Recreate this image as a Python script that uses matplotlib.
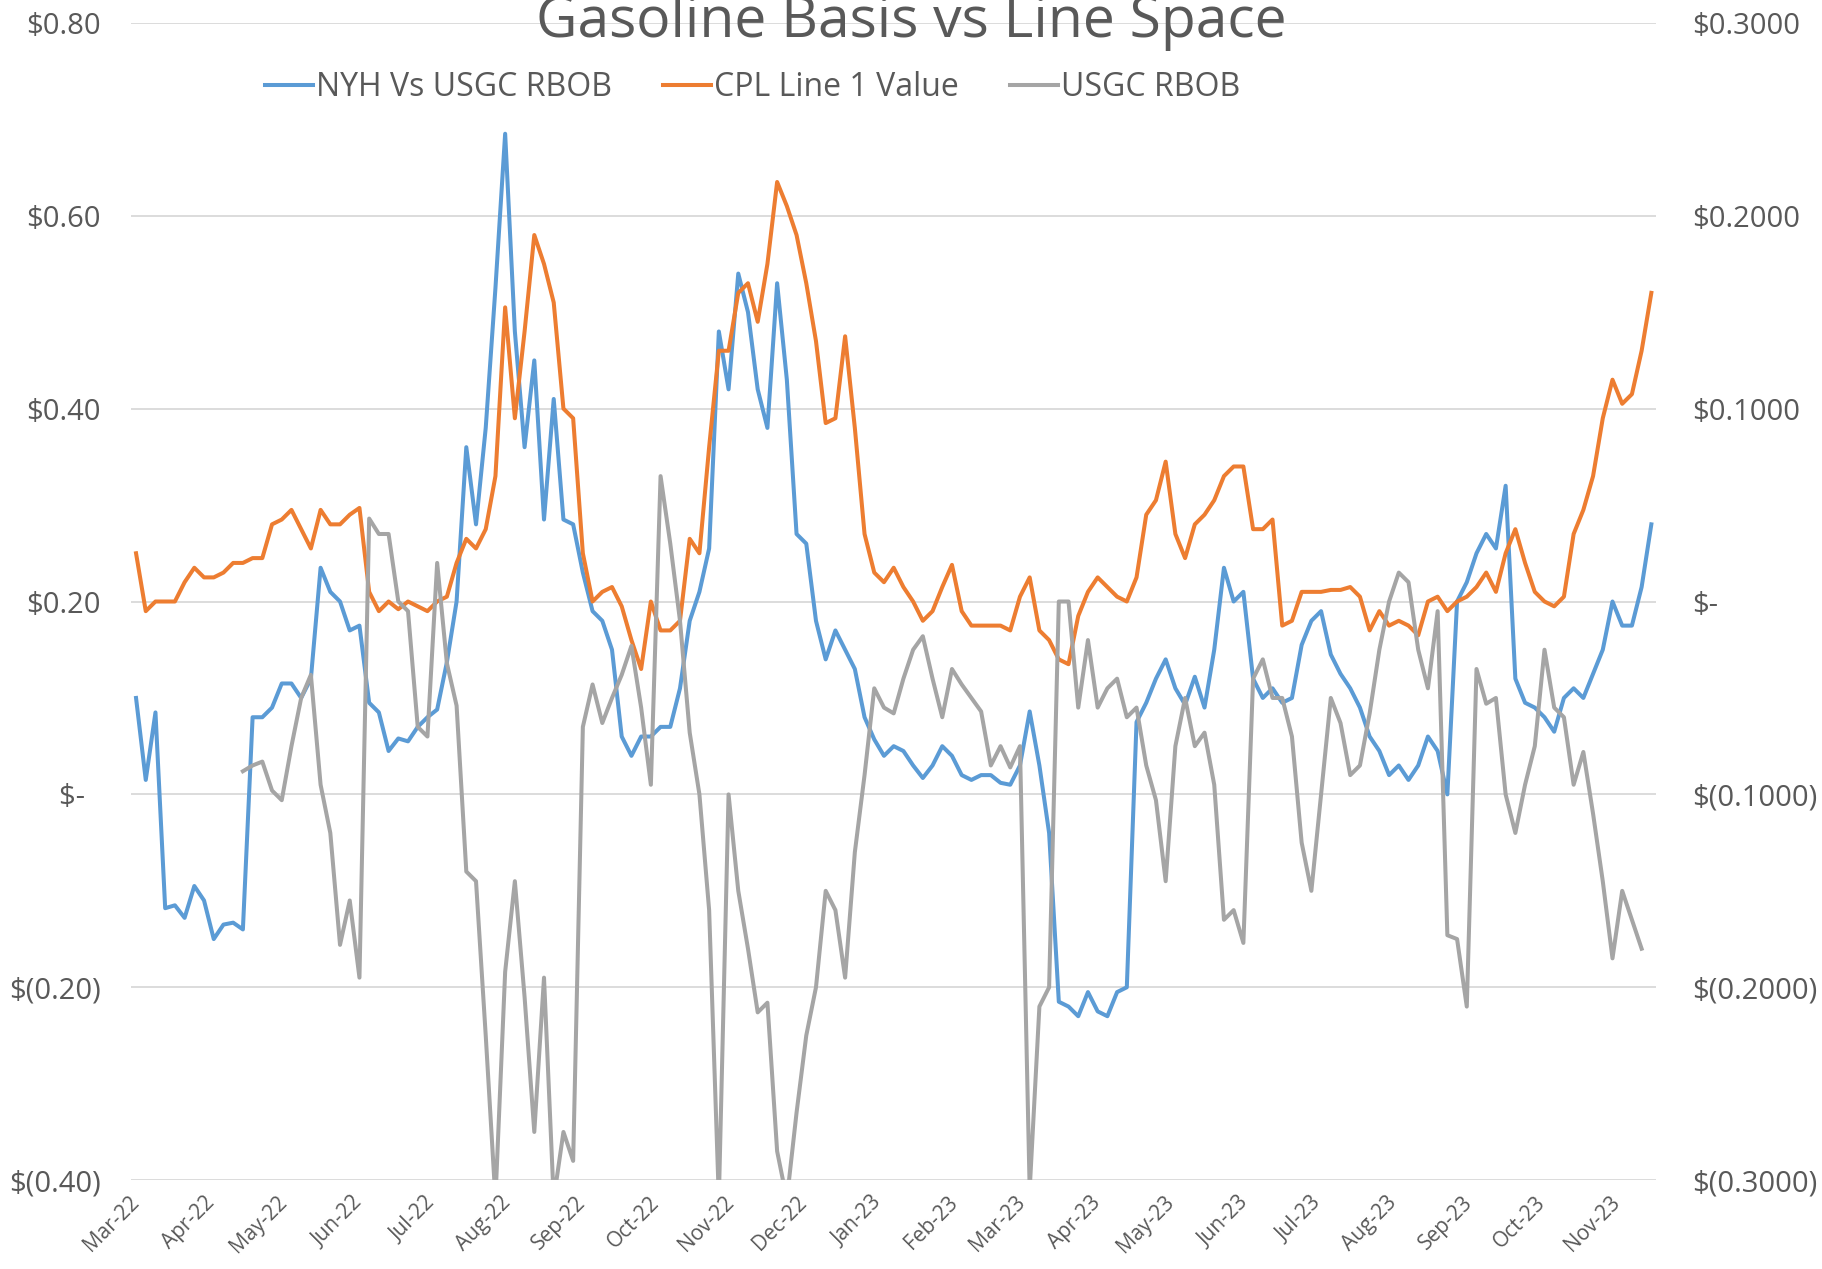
import numpy as np
import pandas as pd
import matplotlib
matplotlib.use("Agg")
import matplotlib.pyplot as plt
import matplotlib.dates as mdates
from matplotlib.ticker import FixedLocator, FuncFormatter

plt.rcParams['font.family'] = ['Open Sans', 'DejaVu Sans']

# sampled every 4 days from 1 Mar 2022
dates = pd.date_range('2022-03-01', periods=157, freq='4D')

# NYH vs USGC RBOB (left axis, $/gal)
nyh = [0.10, 0.015, 0.085, -0.118, -0.115, -0.128, -0.095, -0.11, -0.15, -0.135,
       -0.133, -0.14, 0.08, 0.08, 0.09, 0.115, 0.115, 0.10, 0.12, 0.235,
       0.21, 0.20, 0.17, 0.175, 0.095, 0.085, 0.045, 0.058, 0.055, 0.07,
       0.08, 0.088, 0.137, 0.20, 0.36, 0.28, 0.38, 0.525, 0.685, 0.48,
       0.36, 0.45, 0.285, 0.41, 0.285, 0.28, 0.23, 0.19, 0.18, 0.15,
       0.06, 0.04, 0.06, 0.06, 0.07, 0.07, 0.11, 0.18, 0.21, 0.255,
       0.48, 0.42, 0.54, 0.50, 0.42, 0.38, 0.53, 0.43, 0.27, 0.26,
       0.18, 0.14, 0.17, 0.15, 0.13, 0.08, 0.057, 0.04, 0.05, 0.045,
       0.03, 0.017, 0.03, 0.05, 0.04, 0.02, 0.015, 0.02, 0.02, 0.012,
       0.01, 0.03, 0.086, 0.03, -0.04, -0.215, -0.22, -0.23, -0.205, -0.225,
       -0.23, -0.205, -0.20, 0.075, 0.095, 0.12, 0.14, 0.11, 0.093, 0.122,
       0.09, 0.15, 0.235, 0.20, 0.21, 0.12, 0.10, 0.11, 0.095, 0.10,
       0.155, 0.18, 0.19, 0.145, 0.125, 0.11, 0.09, 0.06, 0.045, 0.02,
       0.03, 0.015, 0.03, 0.06, 0.045, 0.0, 0.20, 0.22, 0.25, 0.27,
       0.255, 0.32, 0.12, 0.095, 0.09, 0.08, 0.065, 0.10, 0.11, 0.10,
       0.125, 0.15, 0.20, 0.175, 0.175, 0.215, 0.28]

# CPL Line 1 value (left axis)
cpl = [0.25, 0.19, 0.20, 0.20, 0.20, 0.22, 0.235, 0.225, 0.225, 0.23,
       0.24, 0.24, 0.245, 0.245, 0.28, 0.285, 0.295, 0.275, 0.255, 0.295,
       0.28, 0.28, 0.29, 0.297, 0.21, 0.19, 0.20, 0.192, 0.20, 0.195,
       0.19, 0.20, 0.205, 0.24, 0.265, 0.255, 0.275, 0.33, 0.505, 0.39,
       0.48, 0.58, 0.55, 0.51, 0.40, 0.39, 0.25, 0.20, 0.21, 0.215,
       0.195, 0.16, 0.13, 0.20, 0.17, 0.17, 0.18, 0.265, 0.25, 0.36,
       0.46, 0.46, 0.52, 0.53, 0.49, 0.55, 0.635, 0.61, 0.58, 0.53,
       0.47, 0.385, 0.39, 0.475, 0.38, 0.27, 0.23, 0.22, 0.235, 0.215,
       0.20, 0.18, 0.19, 0.215, 0.238, 0.19, 0.175, 0.175, 0.175, 0.175,
       0.17, 0.205, 0.225, 0.17, 0.16, 0.14, 0.135, 0.185, 0.21, 0.225,
       0.215, 0.205, 0.20, 0.225, 0.29, 0.305, 0.345, 0.27, 0.245, 0.28,
       0.29, 0.305, 0.33, 0.34, 0.34, 0.275, 0.275, 0.285, 0.175, 0.18,
       0.21, 0.21, 0.21, 0.212, 0.212, 0.215, 0.205, 0.17, 0.19, 0.175,
       0.18, 0.175, 0.165, 0.20, 0.205, 0.19, 0.20, 0.205, 0.215, 0.23,
       0.21, 0.25, 0.275, 0.24, 0.21, 0.20, 0.195, 0.205, 0.27, 0.295,
       0.33, 0.39, 0.43, 0.405, 0.415, 0.46, 0.52]

# USGC RBOB (right axis)
usgc = [np.nan] * 11 + [
       -0.088, -0.085, -0.083, -0.098, -0.103, -0.075, -0.05, -0.038, -0.095,
       -0.12, -0.178, -0.155, -0.195, 0.043, 0.035, 0.035, 0.0, -0.005, -0.065,
       -0.07, 0.02, -0.032, -0.054, -0.14, -0.145, -0.225, -0.31, -0.192, -0.145,
       -0.205, -0.275, -0.195, -0.31, -0.275, -0.29, -0.065, -0.043, -0.063, -0.05,
       -0.038, -0.023, -0.055, -0.095, 0.065, 0.03, -0.01, -0.068, -0.1, -0.16,
       -0.31, -0.1, -0.15, -0.18, -0.213, -0.208, -0.285, -0.31, -0.265, -0.225,
       -0.2, -0.15, -0.16, -0.195, -0.13, -0.09, -0.045, -0.055, -0.058, -0.04,
       -0.025, -0.018, -0.04, -0.06, -0.035, -0.043, -0.05, -0.057, -0.085, -0.075,
       -0.086, -0.075, -0.305, -0.21, -0.2, 0.0, 0.0, -0.055, -0.02, -0.055,
       -0.045, -0.04, -0.06, -0.055, -0.085, -0.103, -0.145, -0.075, -0.05, -0.075,
       -0.068, -0.095, -0.165, -0.16, -0.177, -0.04, -0.03, -0.05, -0.05, -0.07,
       -0.125, -0.15, -0.1, -0.05, -0.063, -0.09, -0.085, -0.058, -0.025, 0.0,
       0.015, 0.01, -0.025, -0.045, -0.005, -0.173, -0.175, -0.21, -0.035, -0.053,
       -0.05, -0.1, -0.12, -0.095, -0.075, -0.025, -0.055, -0.06, -0.095, -0.078,
       -0.11, -0.145, -0.185, -0.15, -0.165, -0.18] + [np.nan]

month_ticks = pd.date_range('2022-03-01', '2023-11-01', freq='MS')
left_ticks = [-0.4, -0.2, 0.0, 0.2, 0.4, 0.6, 0.8]
right_ticks = [-0.3, -0.2, -0.1, 0.0, 0.1, 0.2, 0.3]

blue, orange, grey = '#5B9BD5', '#ED7D31', '#A5A5A5'
txt = '#595959'

def left_fmt(v, pos):
    if abs(v) < 1e-9:
        return '$-  '
    if v < 0:
        return '$(%.2f)' % -v
    return '$%.2f' % v

def right_fmt(v, pos):
    if abs(v) < 1e-9:
        return '$-'
    if v < 0:
        return '$(%.4f)' % -v
    return '$%.4f' % v

fig = plt.figure(figsize=(18.22, 12.69), dpi=100)
ax = fig.add_axes([0.072, 0.070, 0.837, 0.912])
ax2 = ax.twinx()

l1, = ax.plot(dates, nyh, color=blue, lw=2.9, label='NYH Vs USGC RBOB')
l2, = ax.plot(dates, cpl, color=orange, lw=2.9, label='CPL Line 1 Value')
l3, = ax2.plot(dates, usgc, color=grey, lw=2.9, label='USGC RBOB')

ax.set_ylim(-0.4, 0.8)
ax2.set_ylim(-0.3, 0.3)
ax.set_xlim(pd.Timestamp('2022-02-27'), pd.Timestamp('2023-11-17'))

ax.yaxis.set_major_locator(FixedLocator(left_ticks))
ax.yaxis.set_major_formatter(FuncFormatter(left_fmt))
ax2.yaxis.set_major_locator(FixedLocator(right_ticks))
ax2.yaxis.set_major_formatter(FuncFormatter(right_fmt))

ax.xaxis.set_major_locator(FixedLocator(mdates.date2num(month_ticks)))
ax.xaxis.set_major_formatter(mdates.DateFormatter('%b-%y'))
for lab in ax.get_xticklabels():
    lab.set_rotation(45)
    lab.set_ha('right')
    lab.set_va('center')
    lab.set_rotation_mode('anchor')

ax.yaxis.grid(True, color='#D9D9D9', lw=1.3)
ax.set_axisbelow(True)
for a in (ax, ax2):
    for s in a.spines.values():
        s.set_visible(False)
ax.tick_params(axis='y', length=0, labelsize=21, labelcolor=txt, pad=22)
ax2.tick_params(axis='y', length=0, labelsize=21, labelcolor=txt, pad=26)
ax.tick_params(axis='x', length=0, labelsize=15, labelcolor=txt, pad=14)

fig.text(0.5, 0.982, 'Gasoline Basis vs Line Space', ha='center', va='center',
         fontsize=41, color=txt)
fig.legend([l1, l2, l3], [l1.get_label(), l2.get_label(), l3.get_label()],
           loc='center', bbox_to_anchor=(0.413, 0.931), ncol=3, frameon=False,
           fontsize=23, handlelength=1.5, handletextpad=0.1, columnspacing=1.6,
           labelcolor=txt)

fig.savefig('out.png', dpi=100, facecolor='white')
